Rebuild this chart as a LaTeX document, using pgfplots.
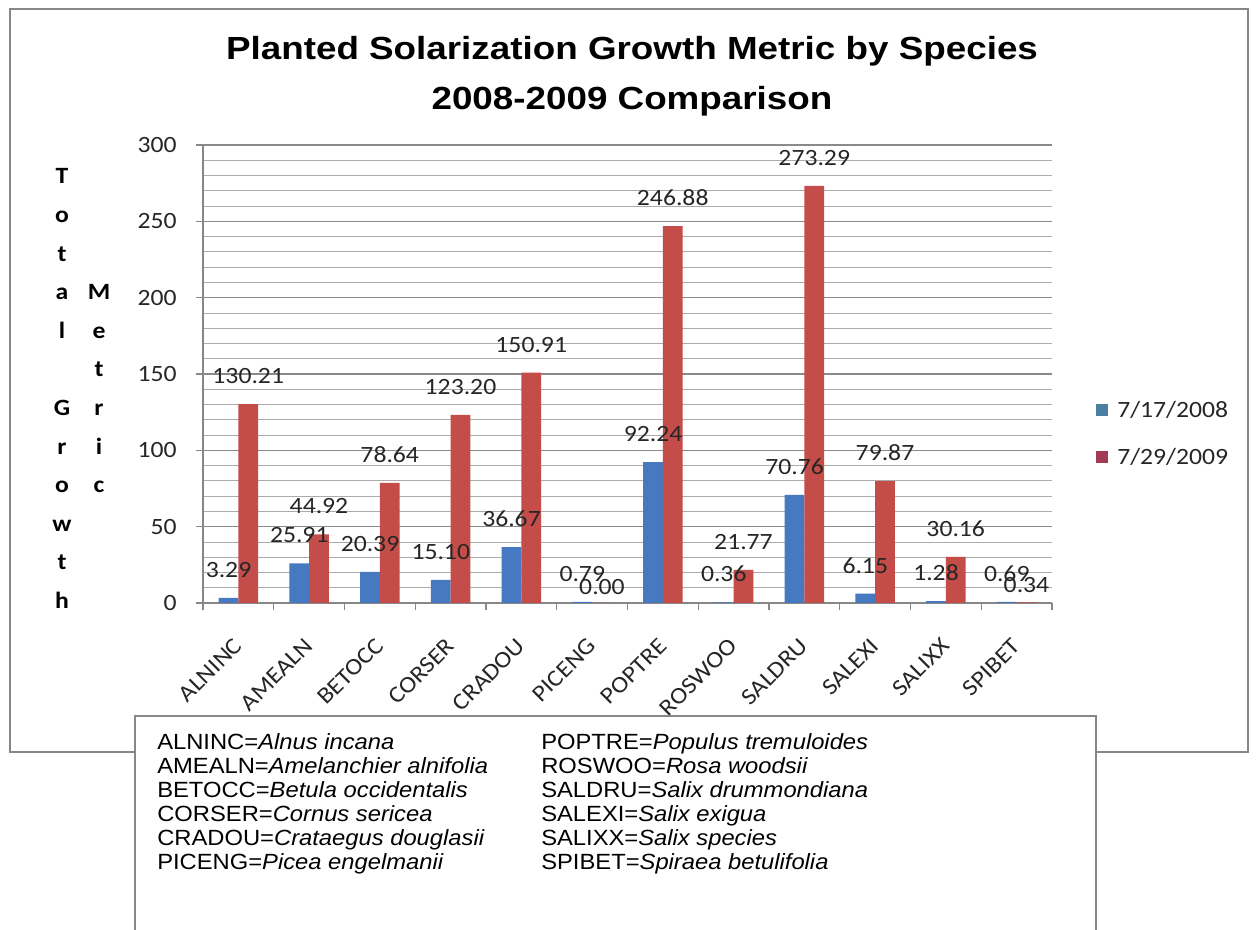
\documentclass[border=0pt]{standalone}
\usepackage{fontspec}
\setmainfont[FakeStretch=1.1]{Carlito}
\newfontfamily\titlefont[FakeStretch=1.15]{Liberation Sans}
\newfontfamily\boxfont[FakeStretch=1.08]{Liberation Sans}
\usepackage{pgfplots}
\usepackage{pgfplotstable}
\pgfplotsset{compat=1.18}
\pgfkeys{/pgf/number format/assume math mode=true}

\definecolor{barblue}{HTML}{4679C0}
\definecolor{barred}{HTML}{C54D49}
\definecolor{lgblue}{HTML}{4A7EA3}
\definecolor{lgred}{HTML}{A33B56}
\definecolor{gridmaj}{HTML}{8A8A8A}
\definecolor{gridmin}{HTML}{ABABAB}
\definecolor{framegray}{HTML}{878787}
\definecolor{txt}{HTML}{262626}

\pgfplotstableread{
x  a      ad  b       bd
0  3.29   20  130.21  20
1  25.91  20  44.92   20
2  20.39  20  78.64   20
3  15.10  20  123.20  20
4  36.67  20  150.91  20
5  0.79   20  0.00    8
6  92.24  20  246.88  20
7  0.36   20  21.77   20
8  70.76  20  273.29  20
9  6.15   20  79.87   20
10 1.28   20  30.16   20
11 0.69   20  0.34    10
}\data

\begin{document}
\begin{tikzpicture}
\path[use as bounding box] (0,0) rectangle (942.75pt,697.5pt);
\fill[white] (0,0) rectangle (942.75pt,697.5pt);
\begin{scope}[shift={(0,697.5pt)},x=0.75pt,y=-0.75pt]
  \draw[framegray, line width=1.5pt] (10,9) rectangle (1248,752);
  \node[anchor=base, font=\titlefont\bfseries\fontsize{24pt}{28pt}\selectfont] at (632,60) {Planted Solarization Growth Metric by Species};
  \node[anchor=base, font=\titlefont\bfseries\fontsize{24pt}{28pt}\selectfont] at (632,110) {2008-2009 Comparison};
  \foreach \c [count=\i from 0] in {T,o,t,a,l,{},G,r,o,w,t,h}
    \node[anchor=base, inner sep=0pt, font=\bfseries\fontsize{17.5pt}{20pt}\selectfont] at (62,{184+38.6*\i}) {\c};
  \foreach \c [count=\i from 3] in {M,e,t,r,i,c}
    \node[anchor=base, inner sep=0pt, font=\bfseries\fontsize{17.5pt}{20pt}\selectfont] at (99,{184+38.6*\i}) {\c};
\end{scope}

\begin{axis}[
  at={(152.25pt,245.25pt)}, anchor=south west,
  scale only axis, width=636.75pt, height=343.5pt,
  xmin=-0.5, xmax=11.5, ymin=0, ymax=300,
  ybar=0pt, bar width=14.8pt,
  axis x line*=bottom, axis y line*=left,
  axis line style={draw=framegray, line width=0.9pt, -},
  x axis line style={-}, y axis line style={-},
  tick align=outside,
  major tick length=5.5pt, minor tick length=0pt,
  tick style={draw=framegray, line width=0.9pt},
  xtick={-0.5,0.5,...,11.5}, xticklabels={},
  extra x ticks={0,1,...,11},
  extra x tick labels={ALNINC,AMEALN,BETOCC,CORSER,CRADOU,PICENG,POPTRE,ROSWOO,SALDRU,SALEXI,SALIXX,SPIBET},
  extra x tick style={major tick length=0pt,
    xticklabel style={yshift=-29.25pt, rotate=45, anchor=east, inner sep=0pt}},
  ytick={0,50,...,300},
  minor y tick num=4,
  ymajorgrids, yminorgrids,
  major grid style={draw=gridmaj, line width=0.8pt},
  minor grid style={draw=gridmin, line width=0.6pt},
  ticklabel style={font=\fontsize{17.5pt}{20pt}\selectfont, text=txt},
  yticklabel style={inner sep=0pt, xshift=-14pt},
  nodes near coords={\pgfmathprintnumber[fixed,fixed zerofill,precision=2]{\pgfplotspointmeta}},
  every node near coord/.append style={font=\fontsize{17.5pt}{20pt}\selectfont, text=txt, inner sep=0pt, anchor=south},
  legend style={at={(1,0.5)}, anchor=west, xshift=33pt, yshift=-44.6pt,
    draw=none, fill=none, inner sep=0pt, row sep=24pt, column sep=6.75pt,
    font=\fontsize{17.5pt}{20pt}\selectfont, text=txt,
    nodes={inner sep=0pt, anchor=base west, text height=11pt, text depth=0pt}},
  legend cell align=left,
]
\addplot[draw=none, fill=barblue,
  visualization depends on={\thisrow{ad}\as\dy},
  every node near coord/.append style={yshift=\dy*0.75pt},
  legend image code/.code={\fill[lgblue] (0pt,1pt) rectangle (9pt,10pt);}]
  table[x=x, y=a] {\data};
\addlegendentry{7/17/2008}
\addplot[draw=none, fill=barred,
  visualization depends on={\thisrow{bd}\as\dy},
  every node near coord/.append style={yshift=\dy*0.75pt},
  legend image code/.code={\fill[lgred] (0pt,1pt) rectangle (9pt,10pt);}]
  table[x=x, y=b] {\data};
\addlegendentry{7/29/2009}
\end{axis}

\begin{scope}[shift={(0,697.5pt)},x=0.75pt,y=-0.75pt]
  \draw[framegray, line width=1.5pt, fill=white] (135,716) rectangle (1096,960);
  \begin{scope}[every node/.style={anchor=base west, inner sep=0pt, font=\boxfont\fontsize{16.5pt}{18pt}\selectfont}]
    \node at (157,750) {ALNINC=\textit{Alnus incana}};
    \node at (157,774) {AMEALN=\textit{Amelanchier alnifolia}};
    \node at (157,798) {BETOCC=\textit{Betula occidentalis}};
    \node at (157,822) {CORSER=\textit{Cornus sericea}};
    \node at (157,846) {CRADOU=\textit{Crataegus douglasii}};
    \node at (157,870) {PICENG=\textit{Picea engelmanii}};
    \node at (541,750) {POPTRE=\textit{Populus tremuloides}};
    \node at (541,774) {ROSWOO=\textit{Rosa woodsii}};
    \node at (541,798) {SALDRU=\textit{Salix drummondiana}};
    \node at (541,822) {SALEXI=\textit{Salix exigua}};
    \node at (541,846) {SALIXX=\textit{Salix species}};
    \node at (541,870) {SPIBET=\textit{Spiraea betulifolia}};
  \end{scope}
\end{scope}
\end{tikzpicture}
\end{document}
